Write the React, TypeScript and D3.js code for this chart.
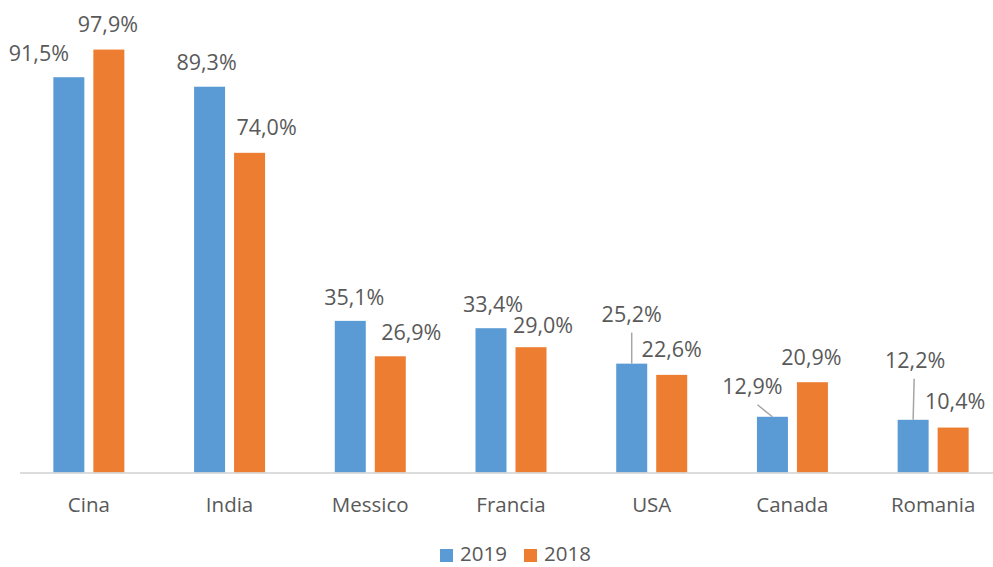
import React from "react";
import * as d3 from "d3";

const categories = ["Cina", "India", "Messico", "Francia", "USA", "Canada", "Romania"];
const seriesNames = ["2019", "2018"];
const values2019 = [91.5, 89.3, 35.1, 33.4, 25.2, 12.9, 12.2];
const values2018 = [97.9, 74.0, 26.9, 29.0, 22.6, 20.9, 10.4];
const seriesValues = [values2019, values2018];
const colors = ["#5B9BD5", "#ED7D31"];

// label layout tweaks (dx, dy from default position, leader line)
const labelLayout2019 = [
  { dx: -30, dy: 1, leader: false, ldx: 0 },
  { dx: -3, dy: 0, leader: false, ldx: 0 },
  { dx: 4, dy: 1, leader: false, ldx: 0 },
  { dx: 2, dy: 1, leader: false, ldx: 0 },
  { dx: 0, dy: -25, leader: true, ldx: 0 },
  { dx: -20, dy: -6, leader: true, ldx: 5 },
  { dx: 2, dy: -35, leader: true, ldx: -1 },
];
const labelLayout2018 = [
  { dx: -1, dy: -1, leader: false, ldx: 0 },
  { dx: 17, dy: -1, leader: false, ldx: 0 },
  { dx: 21, dy: 1, leader: false, ldx: 0 },
  { dx: 12, dy: 3, leader: false, ldx: 0 },
  { dx: 0, dy: -1, leader: false, ldx: 0 },
  { dx: -1, dy: 0, leader: false, ldx: 0 },
  { dx: 2, dy: -2, leader: false, ldx: 0 },
];
const labelLayouts = [labelLayout2019, labelLayout2018];

const W = 993;
const H = 567;
const FONT = "'Open Sans', sans-serif";
const TEXT = "#595959";

const fmt = (v: number) => v.toFixed(1).replace(".", ",") + "%";

export default function App() {
  const baseline = 472.5;
  const x0 = d3.scaleBand<string>().domain(categories).range([18.5, 1003.5]).padding(0);
  const x1 = d3
    .scaleBand<string>()
    .domain(seriesNames)
    .range([0, 71])
    .paddingInner(0.225)
    .paddingOuter(0);
  const y = d3.scaleLinear().domain([0, 100]).range([baseline, baseline - 432]);
  const groupOffset = (x0.bandwidth() - 71) / 2;

  return (
    <div style={{ position: "absolute", left: 0, top: 0 }}>
      <svg width={W} height={H} style={{ display: "block", background: "#fff" }}>
        {seriesNames.map((s, si) =>
          categories.map((c, ci) => {
            const v = seriesValues[si][ci];
            const bx = (x0(c) as number) + groupOffset + (x1(s) as number);
            return (
              <rect
                key={s + c}
                x={bx}
                y={y(v)}
                width={x1.bandwidth()}
                height={baseline - y(v)}
                fill={colors[si]}
              />
            );
          })
        )}
        <line x1={20} x2={W} y1={baseline + 0.5} y2={baseline + 0.5} stroke="#D0D0D0" strokeWidth={1.5} />
        {seriesNames.map((s, si) =>
          categories.map((c, ci) => {
            const v = seriesValues[si][ci];
            const cx = (x0(c) as number) + groupOffset + (x1(s) as number) + x1.bandwidth() / 2;
            const top = y(v);
            const lay = labelLayouts[si][ci];
            const lx = cx + lay.dx;
            const ly = top - 17 + lay.dy;
            return (
              <g key={"l" + s + c}>
                {lay.leader && (
                  <line x1={lx + lay.ldx} y1={ly + 11} x2={cx} y2={top} stroke="#A6A6A6" strokeWidth={1.5} />
                )}
                <text x={lx} y={ly} textAnchor="middle" fontFamily={FONT} fontSize={21.5} fill={TEXT}>
                  {fmt(v)}
                </text>
              </g>
            );
          })
        )}
        {categories.map((c) => (
          <text
            key={"c" + c}
            x={(x0(c) as number) + x0.bandwidth() / 2}
            y={512}
            textAnchor="middle"
            fontFamily={FONT}
            fontSize={20.5}
            fill={TEXT}
          >
            {c}
          </text>
        ))}
        {seriesNames.map((s, si) => {
          const lx = 440 + si * 84;
          return (
            <g key={"lg" + s}>
              <rect x={lx} y={549} width={13} height={13} fill={colors[si]} />
              <text x={lx + 20} y={561} fontFamily={FONT} fontSize={20.5} fill={TEXT}>
                {s}
              </text>
            </g>
          );
        })}
      </svg>
    </div>
  );
}
